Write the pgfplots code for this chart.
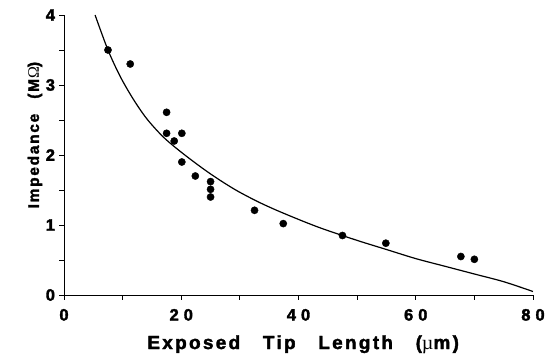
\documentclass[border=0pt]{standalone}
\usepackage{pgfplots}
\pgfplotsset{compat=1.18}
\usepackage{fontspec}
\setmainfont{Liberation Sans}
\newfontfamily\tickfont[FakeBold=2]{Liberation Sans Bold}
\newfontfamily\xlabfont[LetterSpace=12,WordSpace=3,FakeBold=2]{Liberation Sans Bold}
\newfontfamily\ylabfont[LetterSpace=11,WordSpace=2.5,FakeBold=2]{Liberation Sans Bold}
\newfontfamily\symfont{Liberation Serif}
\begin{document}
\begin{tikzpicture}
\useasboundingbox (-64bp,-67bp) rectangle (484bp,295bp);
\begin{axis}[
  scale only axis,
  width=469bp, height=280bp,
  at={(0,0)}, anchor=south west,
  xmin=0, xmax=80, ymin=0, ymax=4,
  axis x line=bottom, axis y line=left,
  axis line style={-, line width=0.9bp},
  xtick={0,10,...,80},
  xticklabels={0,,2\hspace{5bp}0,,4\hspace{5bp}0,,6\hspace{5bp}0,,8\hspace{5bp}0},
  ytick={0,0.5,...,4},
  yticklabels={0,,1,,2,,3,,4},
  tick align=outside,
  major tick length=4.5bp,
  tick style={line width=0.9bp, black},
  /pgf/number format/assume math mode=true,
  tick label style={font=\tickfont\fontsize{16.5bp}{16.5bp}\selectfont},
  xticklabel style={yshift=-6bp},
  yticklabel style={xshift=-1bp},
  xlabel={\xlabfont\fontsize{19bp}{19bp}\selectfont Exposed Tip Length ({\symfont\fontsize{20bp}{20bp}\selectfont µ}m)},
  ylabel={\ylabfont\fontsize{15.5bp}{15.5bp}\selectfont Impedance (M{\symfont\fontsize{16bp}{16bp}\selectfont Ω})},
  xlabel style={at={(axis description cs:0.510,-0.193)}, anchor=base},
  ylabel style={at={(axis description cs:-0.062,0.571)}, anchor=center},
  clip=false,
]
\addplot[black, line width=1.2bp, smooth, tension=0.5] coordinates {
(5.3,4.0) (7.5,3.5) (9.6,3.12) (11.8,2.80) (14.1,2.52) (16.9,2.26)
(20,2.04) (23.8,1.80) (26.6,1.64) (29.5,1.49) (32.9,1.34) (36,1.22)
(40,1.08) (44,0.95) (50,0.78) (55,0.65) (60,0.52) (65,0.41)
(70,0.30) (75,0.19) (80,0.05)
};
\addplot[only marks, mark=*, mark size=3.6bp, black] coordinates {
(7.5,3.5) (11.3,3.30) (17.5,2.61) (17.5,2.31) (18.8,2.2) (20.1,2.31)
(20.1,1.90) (22.4,1.70) (25.0,1.62) (25.0,1.51) (25.0,1.40) (32.5,1.21)
(37.4,1.02) (47.5,0.85) (54.9,0.74) (67.7,0.55) (70.0,0.51)
};
\end{axis}
\end{tikzpicture}
\end{document}
